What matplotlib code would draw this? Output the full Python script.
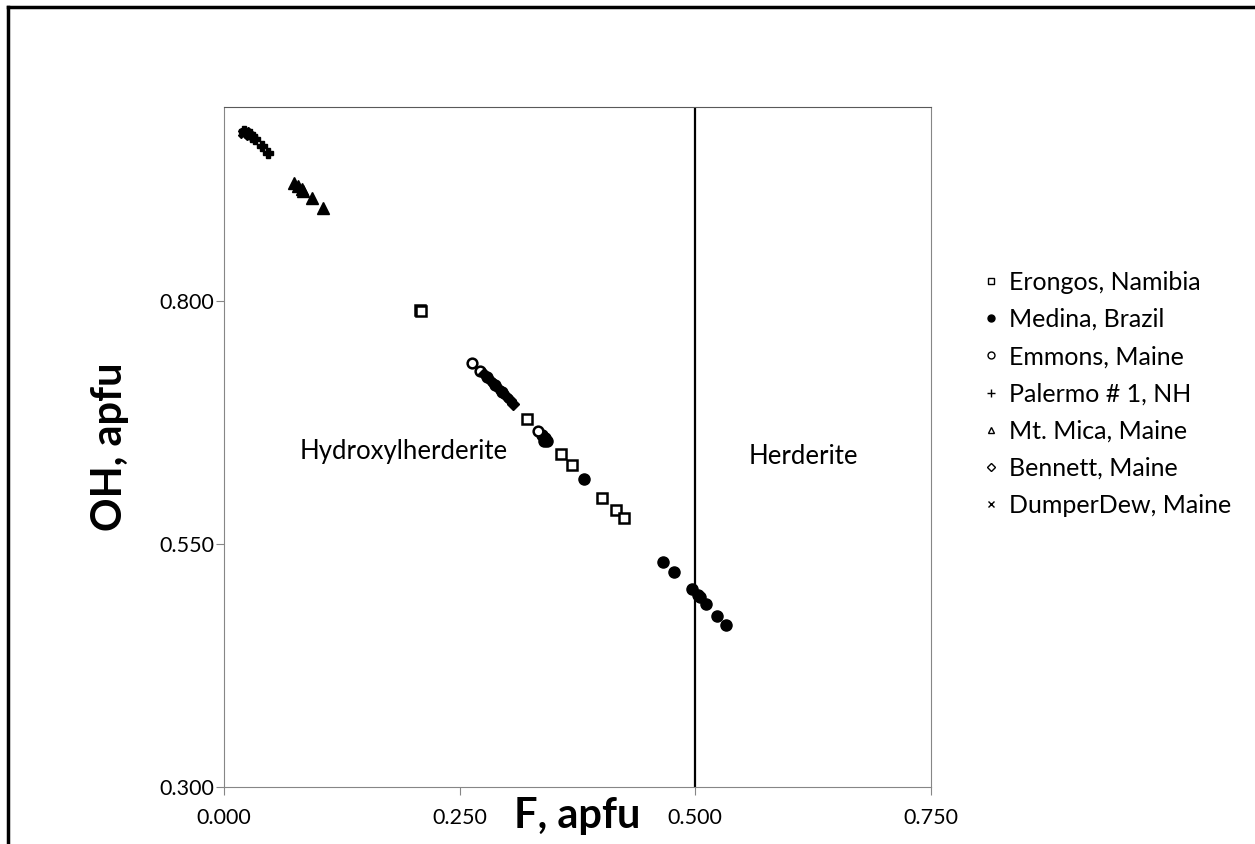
import matplotlib.pyplot as plt
from matplotlib.lines import Line2D

plt.rcParams['font.family'] = ['Lato', 'DejaVu Sans']

# F, OH (apfu) per locality
erongos_f = [0.208, 0.209, 0.321, 0.358, 0.369, 0.401, 0.416, 0.424]
erongos_oh = [0.791, 0.790, 0.679, 0.643, 0.631, 0.598, 0.585, 0.577]

medina_f = [0.337, 0.341, 0.343, 0.340, 0.382, 0.466, 0.477, 0.496, 0.503, 0.505, 0.511, 0.523, 0.533]
medina_oh = [0.662, 0.659, 0.656, 0.656, 0.617, 0.532, 0.521, 0.504, 0.498, 0.496, 0.488, 0.476, 0.467]

emmons_f = [0.263, 0.272, 0.279, 0.288, 0.295, 0.333]
emmons_oh = [0.736, 0.728, 0.722, 0.714, 0.707, 0.667]

palermo_f = [0.021, 0.024, 0.028, 0.030, 0.033, 0.040, 0.047]
palermo_oh = [0.975, 0.973, 0.972, 0.969, 0.967, 0.960, 0.953]

mica_f = [0.074, 0.079, 0.083, 0.084, 0.093, 0.105]
mica_oh = [0.922, 0.919, 0.916, 0.914, 0.906, 0.896]

bennett_f = [0.276, 0.282, 0.286, 0.291, 0.295, 0.299, 0.303, 0.307]
bennett_oh = [0.725, 0.719, 0.715, 0.711, 0.707, 0.703, 0.698, 0.694]

dumper_f = [0.020, 0.023, 0.027]
dumper_oh = [0.973, 0.974, 0.971]

fig = plt.figure(figsize=(12.55, 8.44), dpi=100)
ax = fig.add_axes([0.1785, 0.0675, 0.5633, 0.8057])

k = dict(color='black', linestyle='none')
ax.plot(erongos_f, erongos_oh, marker='s', markersize=7, markerfacecolor='white', markeredgewidth=1.8, label='Erongos, Namibia', **k)
ax.plot(medina_f, medina_oh, marker='o', markersize=8, label='Medina, Brazil', **k)
ax.plot(emmons_f, emmons_oh, marker='o', markersize=7, markerfacecolor='white', markeredgewidth=1.8, label='Emmons, Maine', **k)
ax.plot(palermo_f, palermo_oh, marker='P', markersize=7, label='Palermo # 1, NH', **k)
ax.plot(mica_f, mica_oh, marker='^', markersize=8, markerfacecolor='black', label='Mt. Mica, Maine', **k)
ax.plot(bennett_f, bennett_oh, marker='D', markersize=6, markerfacecolor='black', label='Bennett, Maine', **k)
ax.plot(dumper_f, dumper_oh, marker='X', markersize=7, label='DumperDew, Maine', **k)

ax.axvline(0.5, color='black', linewidth=1.6)

ax.set_xlim(0, 0.75)
ax.set_ylim(0.3, 1.0)
ax.set_xticks([0, 0.25, 0.5, 0.75])
ax.set_yticks([0.3, 0.55, 0.8])
ax.set_xticklabels(['0.000', '0.250', '0.500', '0.750'])
ax.set_yticklabels(['0.300', '0.550', '0.800'])
ax.tick_params(labelsize=15.5, color='#868686', length=6, pad=9)
ax.tick_params(axis='y', pad=1)
for s in ax.spines.values():
    s.set_color('#868686')
ax.spines['top'].set_color('#595959')

ax.set_xlabel('F, apfu', fontsize=30, fontweight='bold', labelpad=-22)
ax.set_ylabel('OH, apfu', fontsize=30, fontweight='bold', labelpad=22)

ax.text(0.191, 0.645, 'Hydroxylherderite', fontsize=18.5, ha='center', va='center')
ax.text(0.615, 0.640, 'Herderite', fontsize=18.5, ha='center', va='center')

handles = [
    Line2D([], [], marker='s', markersize=5, markerfacecolor='white', markeredgewidth=1, **k),
    Line2D([], [], marker='o', markersize=5, **k),
    Line2D([], [], marker='o', markersize=5, markerfacecolor='white', markeredgewidth=1, **k),
    Line2D([], [], marker='+', markersize=6, markeredgewidth=1, **k),
    Line2D([], [], marker='^', markersize=5, markerfacecolor='white', markeredgewidth=1, **k),
    Line2D([], [], marker='D', markersize=4, markerfacecolor='white', markeredgewidth=1, **k),
    Line2D([], [], marker='x', markersize=5, markeredgewidth=1, **k),
]
labels = [l.get_label() for l in ax.get_lines()[:7]]
fig.legend(handles, labels, loc='upper left', bbox_to_anchor=(0.767, 0.706), frameon=False,
           fontsize=18, handlelength=0.5, handletextpad=0.45, labelspacing=0.57)

# outer border (top and left)
fig.add_artist(Line2D([0.006, 1.0], [0.9915, 0.9915], color='black', linewidth=2.5, transform=fig.transFigure))
fig.add_artist(Line2D([0.006, 0.006], [0.0, 0.9915], color='black', linewidth=2.5, transform=fig.transFigure))

fig.savefig('out.png', dpi=100)
